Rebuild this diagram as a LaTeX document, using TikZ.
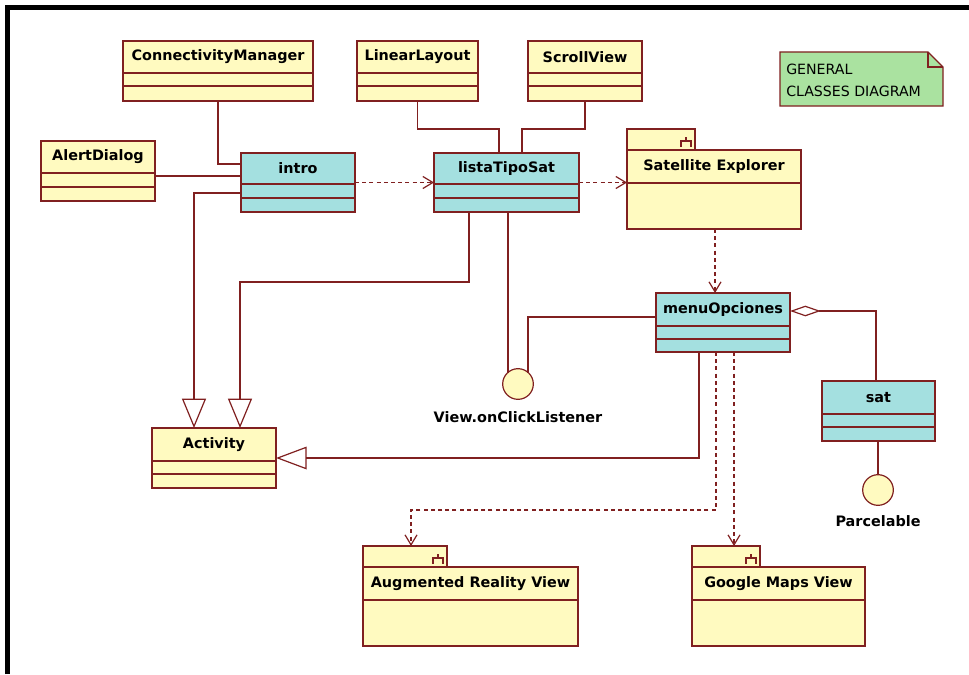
\documentclass[tikz,border=0pt]{standalone}
\usepackage{fontspec}
\setmainfont{DejaVu Sans}
\usetikzlibrary{arrows.meta,calc}

\definecolor{umlline}{RGB}{128,32,32}
\definecolor{umlyellow}{RGB}{255,250,192}
\definecolor{umlcyan}{RGB}{164,224,224}
\definecolor{umlnote}{RGB}{170,226,160}

\tikzset{
  boxline/.style={draw=umlline, line width=0.9pt},
  classbox/.style={boxline, rectangle, inner sep=0pt, outer sep=0pt},
  classname/.style={inner sep=0pt, font=\bfseries\fontsize{10.8}{12}\selectfont},
  assoc/.style={draw=umlline, line width=0.9pt},
  gen/.style={assoc, -{Triangle[open, length=22pt, width=18pt]}},
  dep/.style={assoc, dash pattern=on 3pt off 2.4pt, -{Straight Barb[length=7.5pt, width=9pt]}},
  aggr/.style={assoc, -{Diamond[open, length=23pt, width=8pt]}},
  iface/.style={circle, draw=umlline, line width=0.9pt, fill=umlyellow, minimum size=23pt, inner sep=0pt},
  ifacelabel/.style={inner sep=0pt, font=\bfseries\fontsize{10.8}{12}\selectfont},
  notetext/.style={inner sep=0pt, align=left, font=\fontsize{10.6}{16.5}\selectfont},
}

% class box: name, x1, y1, x2, y2, divider 1, divider 2, title, fill
\newcommand{\umlclass}[9]{%
  \node[classbox, fill=#9, anchor=north west,
        minimum width={(#4-#2)*0.75pt}, minimum height={(#5-#3)*0.75pt}] (#1) at (#2,#3) {};
  \draw[umlline, line width=0.9pt] (#2,#6) -- (#4,#6) (#2,#7) -- (#4,#7);
  \node[classname] (#1-title) at ({(#2+#4)/2},{(#3+#6)/2}) {#8};
}

% package: name, x1, tab top, tab right, body top, x2, y2, divider, title
\newcommand{\umlpackage}[9]{%
  \node[classbox, fill=umlyellow, anchor=north west,
        minimum width={(#4-#2)*0.75pt}, minimum height={(#5-#3)*0.75pt}] (#1-tab) at (#2,#3) {};
  \draw[umlline, line width=0.8pt]
    (#4-9,#3+8) -- (#4-9,#3+12) (#4-14,#3+18) -- (#4-14,#3+12) -- (#4-4,#3+12) -- (#4-4,#3+18);
  \node[classbox, fill=umlyellow, anchor=north west,
        minimum width={(#6-#2)*0.75pt}, minimum height={(#7-#5)*0.75pt}] (#1) at (#2,#5) {};
  \draw[umlline, line width=0.9pt] (#2,#8) -- (#6,#8);
  \node[classname] (#1-title) at ({(#2+#6)/2},{(#5+#8)/2}) {#9};
}

\begin{document}
\begin{tikzpicture}[x=0.75pt, y=-0.75pt]
  \fill[white] (0,0) rectangle (969,674);
  \useasboundingbox (0,0) rectangle (969,674);

  % frame
  \draw[line width=3.75pt] (7.5,674) -- (7.5,7.5) -- (969,7.5);

  % classes
  \umlclass{cm}{123}{41}{313}{101}{73}{86}{ConnectivityManager}{umlyellow}
  \umlclass{alert}{41}{141}{155}{201}{173}{187}{AlertDialog}{umlyellow}
  \umlclass{ll}{357}{41}{478}{101}{73}{86}{LinearLayout}{umlyellow}
  \umlclass{sv}{528}{41}{642}{101}{73}{86}{ScrollView}{umlyellow}
  \umlclass{activity}{152}{428}{276}{488}{461}{474}{Activity}{umlyellow}
  \umlclass{intro}{241}{153}{355}{212}{184}{198}{intro}{umlcyan}
  \umlclass{lts}{434}{153}{579}{212}{184}{198}{listaTipoSat}{umlcyan}
  \umlclass{menu}{656}{293}{790}{352}{326}{339}{menuOpciones}{umlcyan}
  \umlclass{sat}{822}{381}{935}{441}{414}{427}{sat}{umlcyan}

  % packages
  \umlpackage{satexp}{627}{129}{695}{150}{801}{229}{183}{Satellite Explorer}
  \umlpackage{aug}{363}{546}{447}{567}{578}{646}{600}{Augmented Reality View}
  \umlpackage{gmap}{692}{546}{760}{567}{865}{646}{600}{Google Maps View}

  % note
  \draw[umlline, line width=0.9pt, fill=umlnote]
    (780,52) -- (928,52) -- (943,67) -- (943,106) -- (780,106) -- cycle;
  \draw[umlline, line width=0.9pt] (928,52) -- (928,67) -- (943,67);
  \node[notetext, anchor=west] (note) at (786,80) {GENERAL\\CLASSES DIAGRAM};

  % interface lollipops
  \node[iface] (click) at (518,384) {};
  \node[iface] (parc) at (878,490) {};
  \node[ifacelabel] (click-label) at (518,417) {View.onClickListener};
  \node[ifacelabel] (parc-label) at (878,521) {Parcelable};

  % end points of connectors leaving a box side or meeting a circle off its axis
  \coordinate (ltsOut) at (508,212);
  \coordinate (menuOut) at (656,317);
  \coordinate (clickR) at (528,372.5);
  \coordinate (satOut) at (878,441);
  \coordinate (satDep) at (715,229);
  \coordinate (menuD1) at (716,352);
  \coordinate (menuD2) at (734,352);

  % associations
  \draw[assoc] (cm.south) |- ($(intro.north west)+(0,11)$);
  \draw[assoc] ($(alert.north east)+(0,35)$) -- ($(intro.north west)+(0,23)$);
  \draw[assoc] (ll.south) |- (499,129) -- (lts.north -| 499,0);
  \draw[assoc] (sv.south) |- (522,129) -- (lts.north -| 522,0);

  % realizations of the interfaces
  \draw[assoc] (ltsOut) -- (ltsOut |- click.north west);
  \draw[assoc] (menuOut) -| (clickR);
  \draw[assoc] (satOut) -- (parc.north);

  % generalizations to Activity
  \draw[gen] ($(intro.north west)+(0,40)$) -| ($(activity.north west)+(42,0)$);
  \draw[gen] ($(lts.south west)+(35,0)$) -- ++(0,70) -| ($(activity.north west)+(88,0)$);
  \draw[assoc, -{Triangle[open, length=23pt, width=17pt]}]
    ($(menu.south west)+(43,0)$) |- (activity.east);

  % dependencies
  \draw[dep] (intro.east) -- (lts.west);
  \draw[dep] (lts.east) -- (lts.east -| satexp.west);
  \draw[dep] (satDep) -- (satDep |- menu.north);
  \draw[dep] (menuD1) -- ++(0,158) -| ($(aug-tab.north west)+(48,0)$);
  \draw[dep] (menuD2) -- (menuD2 |- gmap-tab.north);

  % aggregation
  \draw[aggr] ($(sat.north west)+(54,0)$) |- ($(menu.north east)+(0,18)$);
\end{tikzpicture}
\end{document}
